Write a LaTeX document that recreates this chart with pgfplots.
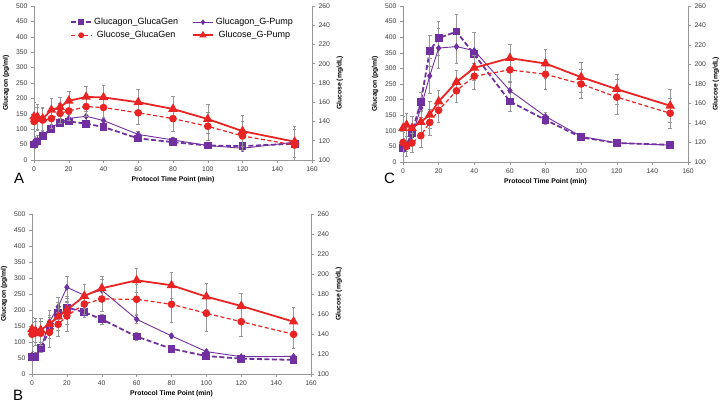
\documentclass[border=0pt]{standalone}
\usepackage{fontspec}
\setmainfont{Liberation Sans}
\usepackage{pgfplots}
\usepackage{pgfplotstable}
\pgfplotsset{compat=1.18}
\definecolor{pur}{RGB}{112,48,160}
\definecolor{rd}{RGB}{232,36,36}
\definecolor{axg}{RGB}{150,150,150}
\definecolor{errg}{RGB}{150,150,150}
\definecolor{tickc}{RGB}{60,60,60}

\pgfplotstableread{
t gg gge gp gpe sg sge sp spe
0 50 12 58 15 140 15 145 15
2 60 12 65 15 143 12 145 13
5 78 10 80 12 141.5 12 143 12
10 100 10 105 12 143 10 152 12
15 120 12 122 12 148.5 10 155 10
20 125 10 135 15 151 10 161.5 10
30 118 10 142 15 155.5 10 165.5 11
40 107 8 128 12 154.5 10 165 13
60 70 8 83 10 149 12 160 13
80 58 8 65 8 143 13 153 13
100 47 8 47 8 135 15 142.5 15
120 45 8 38 8 125 15 130 16
150 53 8 58 10 115.5 16 119 16
}\dataA
\pgfplotstableread{
t gg gge gp gpe sg sge sp spe
0 52 10 59 12 139.7 12 144.7 12
2 52 10 57 12 141 12 143.3 12
5 80 10 80 12 140.7 12 144 12
10 137 15 163 20 141.7 15 150 14
15 190 20 210 30 149.7 12 157.3 14
20 208 15 271 35 158 15 164 14
30 193 15 246 35 170 10 178 12
40 171 15 262 35 175 12 185.7 12
60 117 12 171 12 174.7 15 193.7 12
80 79 8 119 8 169.7 18 188.7 13
100 56 6 70 6 160.7 18 177.3 13
120 48 5 54 5 152.3 15 168 13
150 44 5 55 5 139.7 14 152.3 14
}\dataB
\pgfplotstableread{
t gg gge gp gpe sg sge sp spe
0 45 15 60 15 120 10 134.8 12
2 55 15 50 15 116 10 138 12
5 93 15 82 15 119.5 10 134.8 12
10 192 30 173 30 127 12 141 12
15 356 50 276 55 140.6 13 148.5 14
20 397 55 365 65 153 12 162 12
30 418 55 370 55 173 12 182 12
40 345 70 357 60 188 13 196.6 13
60 194 30 229 30 194.5 13 206.5 14
80 135 15 146 15 190 15 201 15
100 79 8 82 8 180 15 187 15
120 61 6 61 6 166.5 18 174.7 15
150 55 5 54 5 150 15 157.7 17
}\dataC

\pgfplotsset{
  base/.style={scale only axis, xmin=0, xmax=160, xtick={0,20,...,160},
    axis line style={draw=axg, -}, tick style={draw=axg, line width=0.5pt},
    tick align=outside, major tick length=3pt,
    tick label style={font=\fontsize{6.8}{7}\selectfont, text=tickc},
    label style={font=\bfseries\fontsize{6.8}{7}\selectfont},
    /pgf/number format/assume math mode=true,
    error bars/y dir=both, error bars/y explicit,
    error bars/error bar style={solid, line width=0.5pt, draw=errg},
    error bars/error mark options={solid, rotate=90, mark size=1.8pt, draw=errg, line width=0.5pt},
  },
  lft/.style={base, axis x line*=bottom, axis y line*=left, ymin=0, ymax=500,
    ytick={0,50,...,500}, ylabel={Glucagon (pg/ml)}, xlabel={Protocol Time Point (min)},
    xlabel style={yshift=2pt}},
  rgt/.style={base, axis x line=none, axis y line*=right, ymin=100, ymax=260,
    ytick={100,120,...,260}, ylabel={Glucose (mg/dL)}},
  ggs/.style={pur, line width=1.8pt, dash pattern=on 5pt off 2.5pt, mark=square*, mark size=3pt, mark options={solid, fill=pur}},
  gps/.style={pur, line width=0.9pt, mark=diamond*, mark size=2.8pt, mark options={solid, fill=pur}},
  sgs/.style={rd, line width=1.2pt, dash pattern=on 4pt off 2.5pt, mark=*, mark size=3.2pt, mark options={solid, fill=rd}},
  sps/.style={rd, line width=1.8pt, mark=triangle*, mark size=3.8pt, mark options={solid, fill=rd}},
}

\begin{document}
\begin{tikzpicture}
\useasboundingbox (0pt,0pt) rectangle (722pt,403pt);

% ---------- Panel A ----------
\begin{axis}[lft, at={(34pt,397pt)}, anchor=north west, width=278pt, height=154pt]
\addplot[ggs] table[x=t, y=gg, y error=gge] {\dataA};
\addplot[gps] table[x=t, y=gp, y error=gpe] {\dataA};
\end{axis}
\begin{axis}[rgt, at={(34pt,397pt)}, anchor=north west, width=278pt, height=154pt,
  legend columns=2,
  legend style={draw=none, fill=none, font=\fontsize{9}{10}\selectfont, at={(0.13,0.935)}, anchor=north west,
    /tikz/every even column/.append style={column sep=12pt}, row sep=1pt, inner sep=0pt},
  legend image code/.code={\draw[mark repeat=2, mark phase=2] plot coordinates {(0cm,0cm) (0.35cm,0cm) (0.7cm,0cm)};}]
\addplot[sgs, forget plot] table[x=t, y=sg, y error=sge] {\dataA};
\addplot[sps, forget plot] table[x=t, y=sp, y error=spe] {\dataA};
\addlegendimage{ggs, mark size=2.3pt}
\addlegendentry{Glucagon\_GlucaGen}
\addlegendimage{gps, mark size=2.2pt}
\addlegendentry{Glucagon\_G-Pump}
\addlegendimage{sgs, mark size=2.3pt}
\addlegendentry{Glucose\_GlucaGen}
\addlegendimage{sps, mark size=2.6pt}
\addlegendentry{Glucose\_G-Pump}
\end{axis}

% ---------- Panel B ----------
\begin{axis}[lft, at={(32pt,189pt)}, anchor=north west, width=279pt, height=160pt]
\addplot[ggs] table[x=t, y=gg, y error=gge] {\dataB};
\addplot[gps] table[x=t, y=gp, y error=gpe] {\dataB};
\end{axis}
\begin{axis}[rgt, at={(32pt,189pt)}, anchor=north west, width=279pt, height=160pt]
\addplot[sgs] table[x=t, y=sg, y error=sge] {\dataB};
\addplot[sps] table[x=t, y=sp, y error=spe] {\dataB};
\end{axis}

% ---------- Panel C ----------
\begin{axis}[lft, at={(403pt,397pt)}, anchor=north west, width=285pt, height=156pt]
\addplot[ggs] table[x=t, y=gg, y error=gge] {\dataC};
\addplot[gps] table[x=t, y=gp, y error=gpe] {\dataC};
\end{axis}
\begin{axis}[rgt, at={(403pt,397pt)}, anchor=north west, width=285pt, height=156pt]
\addplot[sgs] table[x=t, y=sg, y error=sge] {\dataC};
\addplot[sps] table[x=t, y=sp, y error=spe] {\dataC};
\end{axis}

\node[anchor=base west, font=\fontsize{15}{15}\selectfont, inner sep=0pt] at (14pt,219pt) {A};
\node[anchor=base west, font=\fontsize{15}{15}\selectfont, inner sep=0pt] at (13pt,2pt) {B};
\node[anchor=base west, font=\fontsize{15}{15}\selectfont, inner sep=0pt] at (384pt,219pt) {C};
\end{tikzpicture}
\end{document}
